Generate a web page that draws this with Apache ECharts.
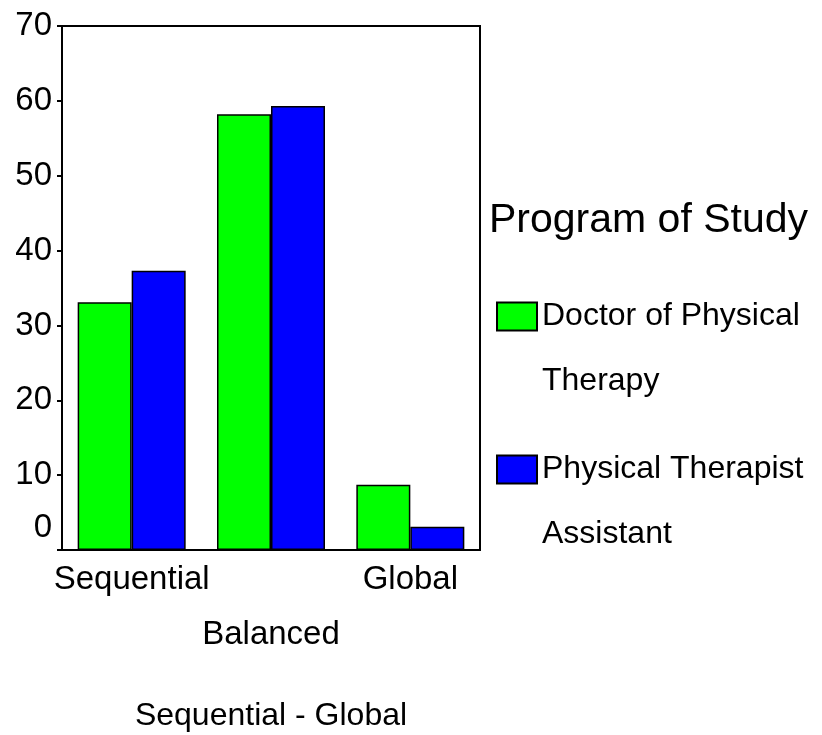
<!DOCTYPE html>
<html>
<head>
<meta charset="utf-8">
<script src="https://cdn.jsdelivr.net/npm/echarts@6/dist/echarts.min.js"></script>
<style>
  html, body { margin: 0; padding: 0; background: #fff; }
  #chart { width: 822px; height: 735px; }
</style>
</head>
<body>
<div id="chart"></div>
<script>
// data
var categories = ['Sequential', 'Balanced', 'Global'];
var seriesNames = ['Doctor of Physical Therapy', 'Physical Therapist Assistant'];
var dptValues = [33.1, 58.2, 8.7];
var ptaValues = [37.3, 59.3, 3.1];
var yTicks = [0, 10, 20, 30, 40, 50, 60, 70];

var FONT = '"Liberation Sans", Arial, sans-serif';

var chart = echarts.init(document.getElementById('chart'));

// legend names wrap onto a second line; the empty first line keeps
// the first text line level with the swatch
function legendName(name) {
  return name === seriesNames[0] ? '\nDoctor of Physical\nTherapy' : '\nPhysical Therapist\nAssistant';
}

var legendText = {
  fontFamily: FONT,
  fontSize: 32,
  color: '#000',
  lineHeight: 65
};

var option = {
  animation: false,
  backgroundColor: '#fff',
  title: {
    text: 'Program of Study',
    left: 489,
    top: 200,
    padding: 0,
    textStyle: { fontFamily: FONT, fontSize: 41, fontWeight: 'normal', color: '#000' }
  },
  legend: [{
    data: [seriesNames[0]],
    left: 496,
    top: 219,
    padding: 0,
    orient: 'vertical',
    icon: 'rect',
    itemWidth: 40,
    itemHeight: 28,
    selectedMode: false,
    formatter: legendName,
    textStyle: legendText
  }, {
    data: [seriesNames[1]],
    left: 496,
    top: 372,
    padding: 0,
    orient: 'vertical',
    icon: 'rect',
    itemWidth: 40,
    itemHeight: 28,
    selectedMode: false,
    formatter: legendName,
    textStyle: legendText
  }],
  grid: {
    left: 62,
    top: 26,
    right: 342,
    bottom: 185,
    outerBoundsMode: 'none',
    show: true,
    borderColor: '#000',
    borderWidth: 2
  },
  xAxis: {
    type: 'category',
    data: categories,
    name: 'Sequential - Global',
    nameLocation: 'middle',
    nameGap: 150,
    nameTextStyle: { fontFamily: FONT, fontSize: 32, color: '#000' },
    axisLine: { lineStyle: { color: '#000', width: 2 } },
    axisTick: { alignWithLabel: true, length: 5, lineStyle: { color: '#000', width: 2 } },
    axisLabel: {
      interval: 0,
      margin: 2,
      fontFamily: FONT,
      fontSize: 33,
      color: '#000',
      lineHeight: 55,
      // the middle label sits one row lower
      formatter: function (v, i) { return i === 1 ? '\n' + v : v; }
    }
  },
  yAxis: {
    type: 'value',
    min: yTicks[0],
    max: yTicks[yTicks.length - 1],
    interval: 10,
    splitLine: { show: false },
    axisLine: { show: true, lineStyle: { color: '#000', width: 2 } },
    axisTick: { show: true, length: 5, lineStyle: { color: '#000', width: 2 } },
    axisLabel: {
      margin: 10,
      fontFamily: FONT,
      fontSize: 33,
      color: '#000',
      formatter: function (v) { return v === 0 ? '{z|0}' : String(v); },
      rich: { z: { fontFamily: FONT, fontSize: 33, color: '#000', padding: [0, 0, 44, 0] } }
    }
  },
  series: [{
    name: seriesNames[0],
    type: 'bar',
    data: dptValues,
    barWidth: 54,
    barGap: '0%',
    itemStyle: { color: '#00ff00', borderColor: '#000', borderWidth: 1.5 }
  }, {
    name: seriesNames[1],
    type: 'bar',
    data: ptaValues,
    barWidth: 54,
    barGap: '0%',
    itemStyle: { color: '#0000ff', borderColor: '#000', borderWidth: 1.5 }
  }]
};

chart.setOption(option);
</script>
</body>
</html>
